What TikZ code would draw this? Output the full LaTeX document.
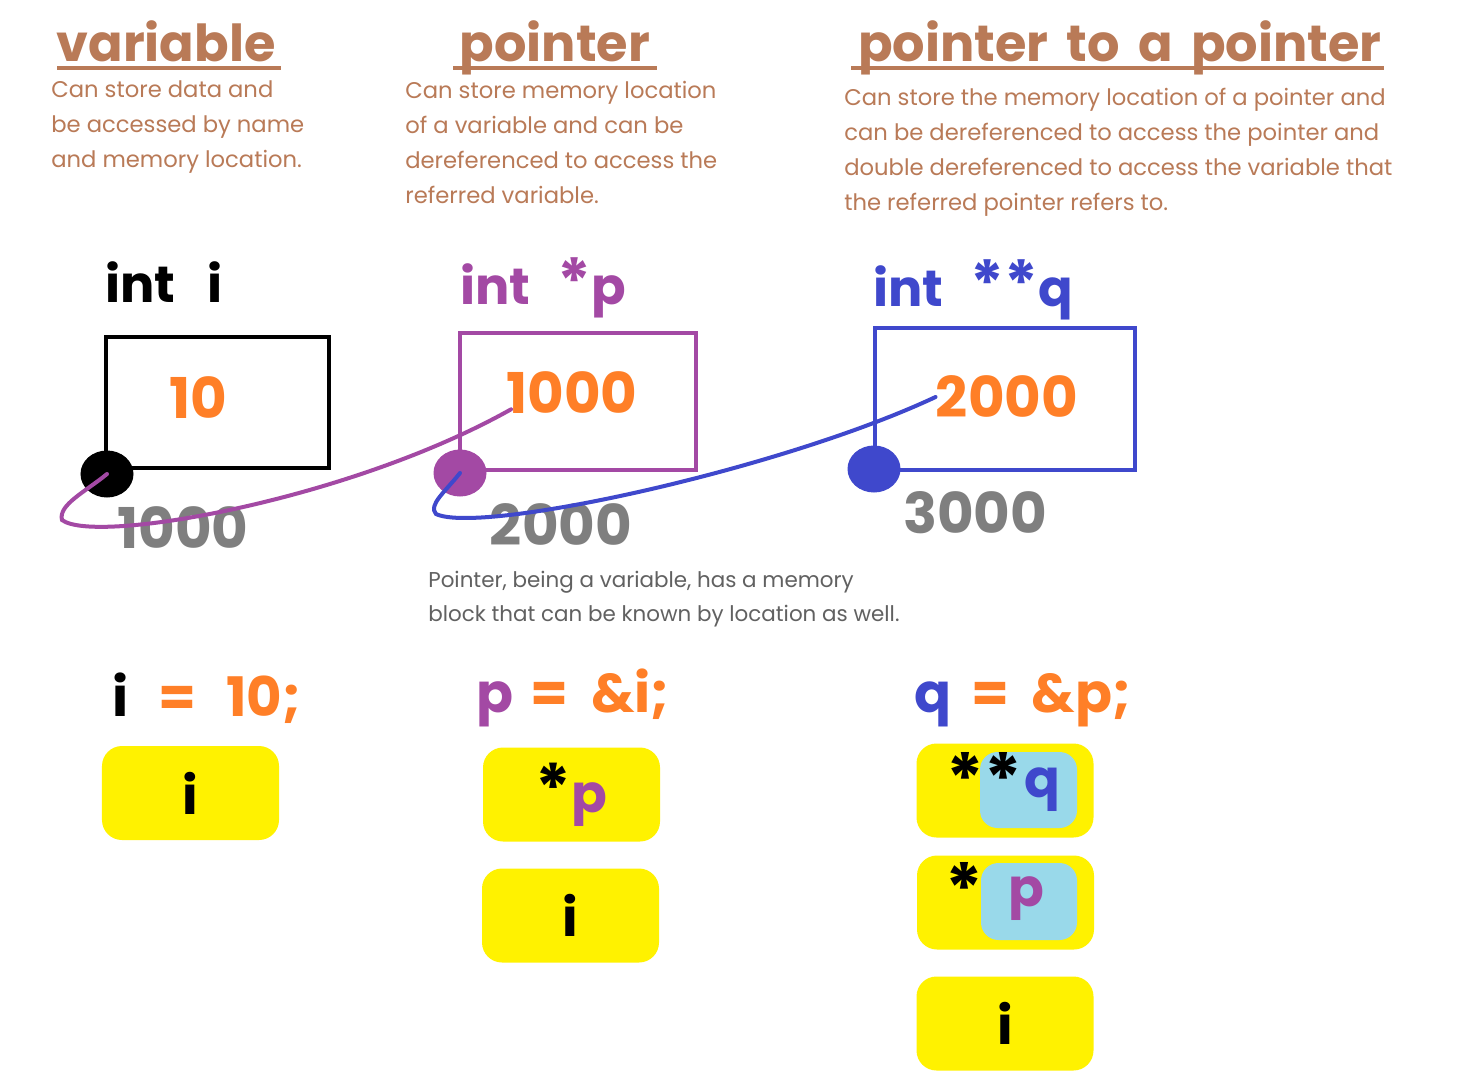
\documentclass[tikz,border=0pt]{standalone}
\usepackage{fontspec}
\setmainfont{Poppins}
\usetikzlibrary{positioning,calc,shapes.geometric}
\definecolor{paintBrown}{RGB}{185,122,87}
\definecolor{paintOrange}{RGB}{255,127,39}
\definecolor{paintPurple}{RGB}{163,73,164}
\definecolor{paintIndigo}{RGB}{63,72,204}
\definecolor{paintGray}{RGB}{127,127,127}
\definecolor{paintYellow}{RGB}{255,242,0}
\definecolor{paintSky}{RGB}{153,217,234}
\colorlet{NoteGray}{black!62}

\begin{document}
\begin{tikzpicture}[
      x=0.2mm,y=-0.2mm,
      heading/.style={anchor=base,inner sep=0pt,font=\fontsize{29}{32}\selectfont\bfseries,text=paintBrown},
      uline/.style={line width=0.8mm,paintBrown},
      descr/.style={anchor=north west,inner sep=0pt,align=left,font=\fontsize{12.9}{19.9}\selectfont,text=paintBrown},
      decl/.style={anchor=base west,inner sep=0pt,font=\fontsize{29}{32}\selectfont\bfseries},
      memcell/.style={draw,line width=0.8mm,inner sep=0pt},
      value/.style={inner sep=0pt,font=\fontsize{32}{34}\selectfont\bfseries,text=paintOrange},
      addr/.style={inner sep=0pt,font=\fontsize{32}{34}\selectfont\bfseries,text=paintGray},
      dot/.style={ellipse,minimum width=10.6mm,minimum height=9.4mm,inner sep=0pt},
      link/.style={line width=0.8mm,line cap=round},
      assign/.style={anchor=base west,inner sep=0pt,font=\fontsize{31}{32}\selectfont\bfseries,text=paintOrange},
      slot/.style={fill=paintYellow,rounded corners=4mm,minimum width=35.4mm,minimum height=18.8mm,inner sep=0pt,font=\fontsize{30}{32}\selectfont\bfseries},
      inbox/.style={fill=paintSky,rounded corners=3.5mm,inner sep=0pt},
      glyph/.style={inner sep=0pt,font=\fontsize{30}{32}\selectfont\bfseries}
    ]
    \useasboundingbox[fill=white] (0,0) rectangle (1458,1090);

    % headings and their notes
    \node[heading] (ttlVar) at (166,62) {variable};
    \node[heading] (ttlPtr) at (555,62) {pointer};
    \node[heading] (ttlPtP) at (1120,62) {pointer\hspace{1.5mm} to\hspace{1.5mm} a\hspace{1.5mm} pointer};
    \draw[uline] ($(ttlVar.base)+(-109,6)$) -- ($(ttlVar.base)+(115,6)$);
    \draw[uline] ($(ttlPtr.base)+(-102,6)$) -- ($(ttlPtr.base)+(102,6)$);
    \draw[uline] ($(ttlPtP.base)+(-269,6)$) -- ($(ttlPtP.base)+(264,6)$);
    \node[descr] (dscVar) at (51,80) {Can store data and\\be accessed by name\\and memory location.};
    \node[descr] (dscPtr) at (405,81) {Can store memory location\\of a variable and can be\\dereferenced to access the\\referred variable.};
    \node[descr] (dscPtP) at (844,88) {Can store the memory location of a pointer and\\can be dereferenced to access the pointer and\\double dereferenced to access the variable that\\the referred pointer refers to.};

    % declarations
    \node[decl,text=black] (declI) at (105,303) {int\hspace{6.5mm}i};
    \node[decl,text=paintPurple] (declP) at (460,305) {int\hspace{5.5mm}{\fontsize{36}{36}\selectfont*}p};
    \node[decl,text=paintIndigo] (declQ) at (873,307) {int\hspace{5.5mm}{\fontsize{36}{36}\selectfont**}q};

    % memory cells
    \node[memcell,draw=black,minimum width=44.6mm,minimum height=26.2mm] (cellI) at (217.5,402.5) {};
    \node[memcell,draw=paintPurple,minimum width=47.2mm,minimum height=27.4mm] (cellP) at (578,401.5) {};
    \node[memcell,draw=paintIndigo,minimum width=52mm,minimum height=28.4mm] (cellQ) at (1005,399) {};
    \node[value] (valI) at (198,398) {10};
    \node[value] (valP) at (572,393) {1000};
    \node[value] (valQ) at (1007,397) {2000};
    \foreach \n/\cell/\c/\dx/\dy in {dotI/cellI/black/3/4,dotP/cellP/paintPurple/2/1,dotQ/cellQ/paintIndigo/1/-3}{
      \node[dot,fill=\c] (\n) at ($(\cell.south west)+(\dx,\dy)$) {};
    }
    \node[addr] (adrI) at (183,528) {1000};
    \node[addr] (adrP) at (561,525) {2000};
    \node[addr] (adrQ) at (975,513) {3000};

    % pointer links
    \draw[link,paintPurple] (dotI.center) .. controls (85,492) and (58,505) .. (62,520)
      .. controls (95,545) and (350,500) .. ($(valP.south west)+(5,-5)$);
    \draw[link,paintIndigo] (dotP.center) .. controls (445,492) and (428,505) .. (436,514)
      .. controls (480,535) and (780,470) .. (valQ.west);

    \node[descr,text=NoteGray,font=\fontsize{12.2}{19.4}\selectfont] (note) at (428,571) {Pointer, being a variable, has a memory\\block that can be known by location as well.};

    % assignments
    \node[assign] (asgI) at (112,716) {\textcolor{black}{i}\hspace{6mm}=\hspace{6mm}10;};
    \node[assign] (asgP) at (476,712) {\textcolor{paintPurple}{p}\hspace{3.5mm}=\hspace{4.5mm}\&i;};
    \node[assign] (asgQ) at (914,712) {\textcolor{paintIndigo}{q}\hspace{4mm}=\hspace{4.5mm}\&p;};

    % what each name reaches
    \node[slot] (slotI) at (190.5,793) {i};
    \node[slot] (slotPa) at (571.5,794.5) {{\fontsize{38}{38}\selectfont*}\textcolor{paintPurple}{p}};
    \node[slot] (slotPb) at (570.5,915.5) {i};
    \node[slot] (slotQa) at (1005,790.5) {};
    \node[slot] (slotQb) at (1005.5,902.5) {};
    \node[slot] (slotQc) at (1005,1023.5) {i};
    \node[inbox,minimum width=19.4mm,minimum height=15.2mm] (inQ) at (1028.5,790) {};
    \node[inbox,minimum width=19.2mm,minimum height=15.4mm] (inP) at (1029,901.5) {};
    \node[glyph,font=\fontsize{40}{40}\selectfont\bfseries] (starQ) at (984,778) {**};
    \node[glyph,text=paintIndigo] (nameQ) at (1042,790) {q};
    \node[glyph,font=\fontsize{40}{40}\selectfont\bfseries] (starP) at (964,888) {*};
    \node[glyph,text=paintPurple] (nameP) at (1026,899) {p};
  \end{tikzpicture}
\end{document}
